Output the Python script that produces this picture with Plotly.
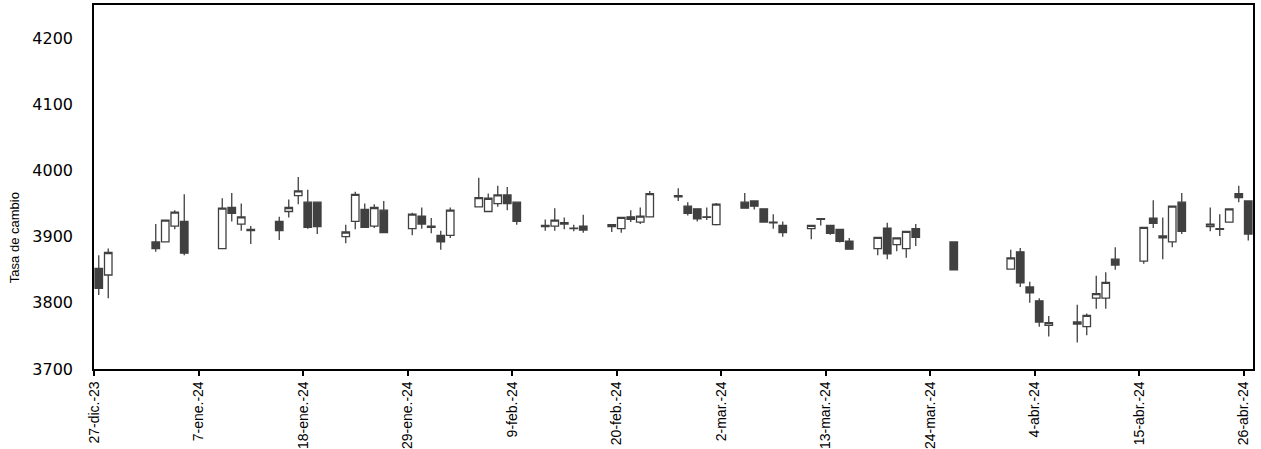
import plotly.graph_objects as go

dates = ["2023-12-27", "2023-12-28",
         "2024-01-02", "2024-01-03", "2024-01-04", "2024-01-05",
         "2024-01-09", "2024-01-10", "2024-01-11", "2024-01-12",
         "2024-01-15", "2024-01-16", "2024-01-17", "2024-01-18", "2024-01-19",
         "2024-01-22", "2024-01-23", "2024-01-24", "2024-01-25", "2024-01-26",
         "2024-01-29", "2024-01-30", "2024-01-31", "2024-02-01", "2024-02-02",
         "2024-02-05", "2024-02-06", "2024-02-07", "2024-02-08", "2024-02-09",
         "2024-02-12", "2024-02-13", "2024-02-14", "2024-02-15", "2024-02-16",
         "2024-02-19", "2024-02-20", "2024-02-21", "2024-02-22", "2024-02-23",
         "2024-02-26", "2024-02-27", "2024-02-28", "2024-02-29", "2024-03-01",
         "2024-03-04", "2024-03-05", "2024-03-06", "2024-03-07", "2024-03-08",
         "2024-03-11", "2024-03-12", "2024-03-13", "2024-03-14", "2024-03-15",
         "2024-03-18", "2024-03-19", "2024-03-20", "2024-03-21", "2024-03-22",
         "2024-03-26",
         "2024-04-01", "2024-04-02", "2024-04-03", "2024-04-04", "2024-04-05",
         "2024-04-08", "2024-04-09", "2024-04-10", "2024-04-11", "2024-04-12",
         "2024-04-15", "2024-04-16", "2024-04-17", "2024-04-18", "2024-04-19",
         "2024-04-22", "2024-04-23", "2024-04-24", "2024-04-25", "2024-04-26"]

open_ = [3852, 3842,
         3892, 3892, 3916, 3923,
         3882, 3944, 3919, 3911,
         3923, 3938, 3962, 3952, 3952,
         3900, 3923, 3941, 3916, 3940,
         3912, 3931, 3916, 3902, 3902,
         3945, 3938, 3950, 3963, 3952,
         3917, 3916, 3921, 3913, 3916,
         3915, 3912, 3930, 3922, 3930,
         3962, 3946, 3942, 3930, 3918,
         3952, 3954, 3942, 3922, 3917,
         3912, 3927, 3917, 3911, 3893,
         3882, 3913, 3888, 3882, 3912,
         3892,
         3851, 3877, 3824, 3803, 3766,
         3768, 3764, 3807, 3807, 3866,
         3863, 3928, 3898, 3892, 3952,
         3915, 3912, 3922, 3965, 3954]

high = [3872, 3882,
        3919, 3926, 3940, 3964,
        3958, 3966, 3950, 3916,
        3930, 3956, 3990, 3971, 3952,
        3918, 3968, 3950, 3949, 3954,
        3936, 3944, 3928, 3909, 3944,
        3989, 3965, 3977, 3975, 3952,
        3926, 3943, 3929, 3918, 3933,
        3919, 3929, 3940, 3944, 3969,
        3973, 3952, 3942, 3944, 3951,
        3966, 3954, 3943, 3934, 3923,
        3917, 3928, 3918, 3912, 3898,
        3899, 3921, 3898, 3909, 3919,
        3892,
        3880, 3883, 3832, 3807, 3780,
        3797, 3784, 3841, 3846, 3884,
        3915, 3955, 3929, 3947, 3966,
        3944, 3934, 3942, 3977, 3954]

low = [3812, 3807,
       3877, 3891, 3911, 3872,
       3882, 3923, 3909, 3889,
       3895, 3929, 3949, 3912, 3904,
       3890, 3911, 3913, 3913, 3906,
       3902, 3912, 3905, 3880, 3898,
       3945, 3937, 3945, 3940, 3918,
       3909, 3909, 3911, 3908, 3906,
       3907, 3906, 3922, 3919, 3929,
       3954, 3932, 3923, 3925, 3917,
       3942, 3941, 3921, 3912, 3900,
       3896, 3917, 3903, 3891, 3880,
       3872, 3866, 3878, 3868, 3886,
       3850,
       3850, 3824, 3800, 3764, 3749,
       3740, 3751, 3791, 3791, 3850,
       3859, 3913, 3866, 3884, 3904,
       3908, 3901, 3921, 3952, 3894]

close = [3822, 3876,
         3882, 3925, 3937, 3875,
         3943, 3935, 3930, 3909,
         3909, 3944, 3969, 3914, 3915,
         3907, 3964, 3914, 3944, 3906,
         3934, 3919, 3914, 3892, 3940,
         3959, 3958, 3963, 3950, 3923,
         3915, 3925, 3919, 3912, 3910,
         3918, 3929, 3926, 3931, 3965,
         3960, 3935, 3927, 3929, 3949,
         3943, 3946, 3922, 3921, 3906,
         3917, 3926, 3905, 3893, 3881,
         3899, 3874, 3898, 3908, 3899,
         3850,
         3868, 3830, 3815, 3771, 3770,
         3771, 3781, 3814, 3831, 3857,
         3914, 3920, 3901, 3946, 3908,
         3919, 3911, 3942, 3959, 3904]

tick_dates = ["2023-12-27", "2024-01-07", "2024-01-18", "2024-01-29",
              "2024-02-09", "2024-02-20", "2024-03-02", "2024-03-13",
              "2024-03-24", "2024-04-04", "2024-04-15", "2024-04-26"]
tick_labels = ["27-dic.-23", "7-ene.-24", "18-ene.-24", "29-ene.-24",
               "9-feb.-24", "20-feb.-24", "2-mar.-24", "13-mar.-24",
               "24-mar.-24", "4-abr.-24", "15-abr.-24", "26-abr.-24"]

y_ticks = [3700, 3800, 3900, 4000, 4100, 4200]
y_title = "Tasa de cambio"

DARK = "#404040"

fig = go.Figure(go.Candlestick(
    x=dates, open=open_, high=high, low=low, close=close,
    xperiod=86400000, xperiodalignment="middle",
    increasing=dict(fillcolor="#ffffff", line=dict(color=DARK, width=1.3)),
    decreasing=dict(fillcolor=DARK, line=dict(color=DARK, width=1.3)),
    whiskerwidth=0,
    showlegend=False,
    hoverinfo="x+y",
))

fig.update_layout(
    width=1261, height=449,
    margin=dict(l=94, r=8, t=5, b=80),
    paper_bgcolor="white", plot_bgcolor="white",
    boxgap=0.2, boxgroupgap=0.01,
    font=dict(family="Liberation Sans", color="#000"),
    showlegend=False,
)

fig.update_xaxes(
    type="date",
    range=["2023-12-27", "2024-04-27"],
    rangeslider=dict(visible=False),
    tickmode="array", tickvals=tick_dates, ticktext=tick_labels,
    tickangle=-90,
    tickfont=dict(family="Liberation Sans", size=14, color="#000"),
    ticks="outside", ticklen=5, tickwidth=1.5, tickcolor="#000",
    showline=True, linecolor="#000", linewidth=1.5, mirror=True,
    showgrid=False, zeroline=False, automargin=False,
)

fig.update_yaxes(
    range=[3700, 4250],
    tickmode="array", tickvals=y_ticks,
    tickfont=dict(family="DejaVu Sans", size=16, color="#000"),
    ticks="", ticklabelstandoff=16,
    showline=True, linecolor="#000", linewidth=1.5, mirror=True,
    showgrid=False, zeroline=False, automargin=False,
)

# axis title placed beside the 3900 level, as in the original
fig.add_annotation(
    text=y_title, textangle=-90,
    xref="paper", x=-0.068, xanchor="center",
    yref="paper", y=0.36, yanchor="middle",
    showarrow=False,
    font=dict(family="Liberation Sans", size=13, color="#000"),
)

fig.write_html(
    "out.html",
    config={"displayModeBar": False},
    post_script="document.body.style.margin='0';document.body.style.overflow='hidden';",
)
